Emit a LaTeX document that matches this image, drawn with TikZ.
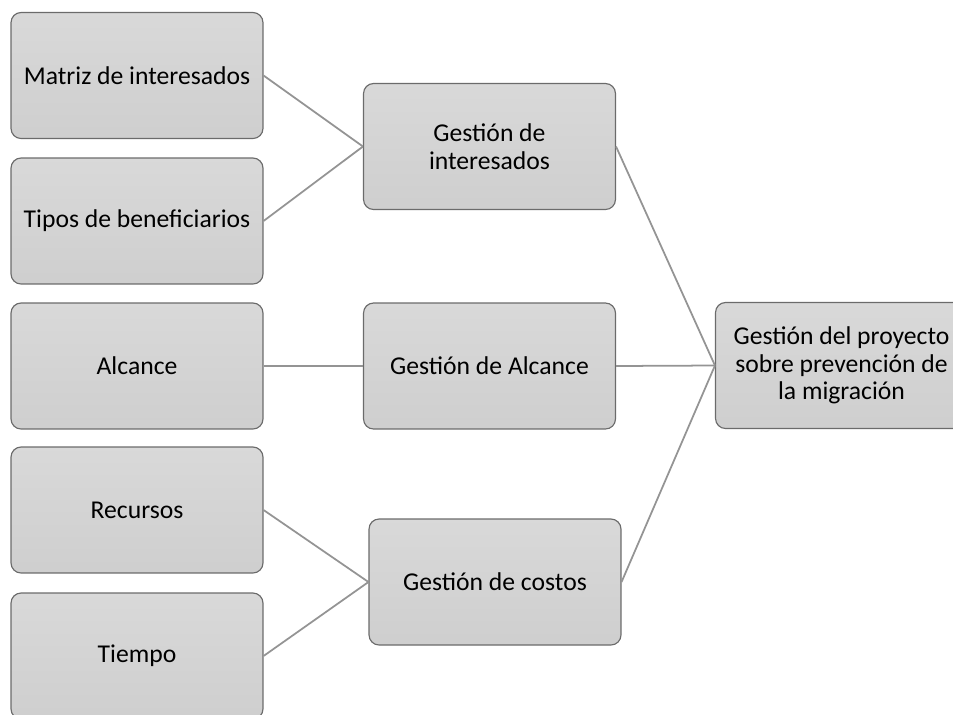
\documentclass[tikz,border=0pt]{standalone}
\usepackage{fontspec}
\setmainfont{Carlito}
\usepackage{tikz}

\begin{document}
\begin{tikzpicture}[x=0.02cm,y=-0.02cm,
    caja/.style={draw=black!58,line width=0.65pt,rounded corners=0.2cm,
        top color=black!15,bottom color=black!19,
        minimum width=5.04cm,minimum height=2.52cm,align=center,
        font=\fontsize{14.6}{15.8}\selectfont},
    enlace/.style={draw=black!42,line width=1pt}]
    \clip (0,0) rectangle (953,714);
    %left column
    \node[caja] (matriz) at (137,75.5) {Matriz de interesados};
    \node[caja] (tipos) at (137,221) {Tipos de beneficiarios};
    \node[caja] (alcance) at (137,366) {Alcance};
    \node[caja] (recursos) at (137,510) {Recursos};
    \node[caja] (tiempo) at (137,656) {Tiempo};
    %middle column
    \node[caja] (ginter) at (489.5,146.5) {Gestión de\\interesados};
    \node[caja] (galcance) at (489.5,366) {Gestión de Alcance};
    \node[caja] (gcostos) at (495,582) {Gestión de costos};
    %right
    \node[caja] (gproy) at (841.5,365.5) {Gestión del proyecto\\sobre prevención de\\la migración};

    \draw[enlace] (matriz.east) -- (ginter.west);
    \draw[enlace] (tipos.east) -- (ginter.west);
    \draw[enlace] (alcance.east) -- (galcance.west);
    \draw[enlace] (recursos.east) -- (gcostos.west);
    \draw[enlace] (tiempo.east) -- (gcostos.west);
    \draw[enlace] (ginter.east) -- (gproy.west);
    \draw[enlace] (galcance.east) -- (gproy.west);
    \draw[enlace] (gcostos.east) -- (gproy.west);
\end{tikzpicture}
\end{document}
